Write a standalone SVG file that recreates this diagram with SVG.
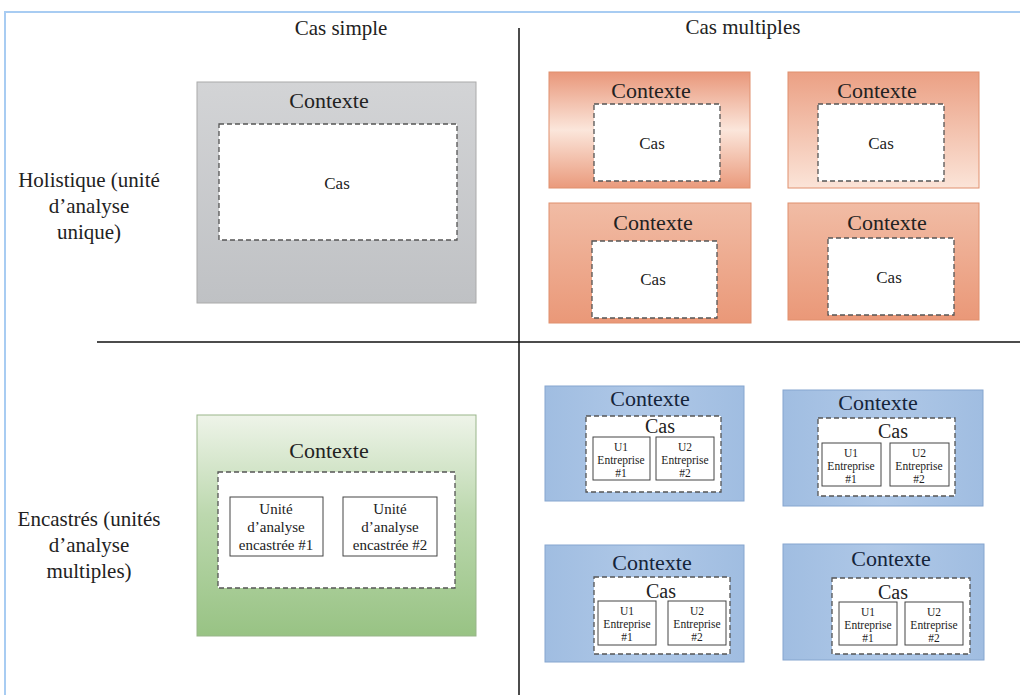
<svg xmlns="http://www.w3.org/2000/svg" width="1020" height="695" viewBox="0 0 1020 695">
<defs>
<linearGradient id="gGray" x1="0" y1="0" x2="0" y2="1"><stop offset="0" stop-color="#D3D4D6"/><stop offset="1" stop-color="#BFC1C4"/></linearGradient>
<linearGradient id="gGreen" x1="0" y1="0" x2="0" y2="1"><stop offset="0" stop-color="#EEF4E9"/><stop offset="0.45" stop-color="#BCD8AE"/><stop offset="1" stop-color="#98C384"/></linearGradient>
<linearGradient id="gOr1" x1="0" y1="0" x2="0" y2="1"><stop offset="0" stop-color="#E9977A"/><stop offset="0.5" stop-color="#FBE6DB"/><stop offset="1" stop-color="#EA9A7C"/></linearGradient>
<linearGradient id="gOr2" x1="0" y1="0" x2="0" y2="1"><stop offset="0" stop-color="#EBA084"/><stop offset="1" stop-color="#FBE4D8"/></linearGradient>
<linearGradient id="gOr3" x1="0" y1="0" x2="0" y2="1"><stop offset="0" stop-color="#F1BCA5"/><stop offset="1" stop-color="#EA9878"/></linearGradient>
<linearGradient id="gBlue" x1="0" y1="0" x2="1" y2="0"><stop offset="0" stop-color="#A0BDE1"/><stop offset="0.5" stop-color="#AFC8E7"/><stop offset="1" stop-color="#A0BDE1"/></linearGradient>
</defs>
<style>
text{font-family:"Liberation Serif","Times New Roman",serif;fill:#222;text-anchor:middle;dominant-baseline:central}
.title{font-size:21px}
.side{font-size:21px}
.ctx{font-size:22px}
.ctxb{font-size:22px;fill:#15243a}
.cas{font-size:17px}
.casb{font-size:20px}
.u{font-size:11.5px}
.ue{font-size:15px}
.dash{fill:#fff;stroke:#555;stroke-width:1.3;stroke-dasharray:5,3}
.unit{fill:#fff;stroke:#444;stroke-width:1}
.gray{fill:url(#gGray);stroke:#aaa;stroke-width:1}
.green{fill:url(#gGreen);stroke:#99b58a;stroke-width:1}
.or{stroke:#E0906E;stroke-width:1}
.blue{fill:url(#gBlue);stroke:#86a6cf;stroke-width:1}
.line{stroke:#111;stroke-width:1.5;fill:none}
.frame{stroke:#A8CCF2;stroke-width:2;fill:none}
</style>
<rect width="1020" height="695" fill="#fff"/>
<path class="frame" d="M1020 12 H5 V695"/>
<g id="connectors">
<line class="line" x1="519" y1="28" x2="519" y2="695"/>
<line class="line" x1="97" y1="342" x2="1020" y2="342"/>
</g>
<g id="labels">
<text class="title" x="341" y="28">Cas simple</text>
<text class="title" x="743" y="27">Cas multiples</text>
<text class="side" x="89" y="180">Holistique (unité</text>
<text class="side" x="89" y="206">d’analyse</text>
<text class="side" x="89" y="232">unique)</text>
<text class="side" x="89" y="519">Encastrés (unités</text>
<text class="side" x="89" y="545">d’analyse</text>
<text class="side" x="89" y="571">multiples)</text>
</g>
<g id="simple-holistic">
<rect class="gray" x="197" y="82" width="279" height="221"/>
<text class="ctx" x="329" y="100">Contexte</text>
<rect class="dash" x="219" y="124" width="238" height="116"/>
<text class="cas" x="337" y="183">Cas</text>
</g>
<g id="multi-holistic-1">
<rect class="or" fill="url(#gOr1)" x="549" y="72" width="201" height="116"/>
<text class="ctx" x="651" y="90">Contexte</text>
<rect class="dash" x="594" y="104" width="126" height="77"/>
<text class="cas" x="652" y="143">Cas</text>
</g>
<g id="multi-holistic-2">
<rect class="or" fill="url(#gOr2)" x="788" y="72" width="191" height="116"/>
<text class="ctx" x="877" y="90">Contexte</text>
<rect class="dash" x="818" y="104" width="126" height="77"/>
<text class="cas" x="881" y="143">Cas</text>
</g>
<g id="multi-holistic-3">
<rect class="or" fill="url(#gOr3)" x="549" y="203" width="202" height="120"/>
<text class="ctx" x="653" y="222">Contexte</text>
<rect class="dash" x="592" y="241" width="125" height="77"/>
<text class="cas" x="653" y="279">Cas</text>
</g>
<g id="multi-holistic-4">
<rect class="or" fill="url(#gOr3)" x="788" y="203" width="191" height="117"/>
<text class="ctx" x="887" y="222">Contexte</text>
<rect class="dash" x="828" y="238" width="126" height="77"/>
<text class="cas" x="889" y="277">Cas</text>
</g>
<g id="simple-embedded">
<rect class="green" x="197" y="415" width="279" height="221"/>
<text class="ctx" x="329" y="450">Contexte</text>
<rect class="dash" x="218" y="472" width="237" height="116"/>
<rect class="unit" x="230" y="497" width="93" height="59"/>
<text class="ue" x="276" y="509">Unité</text>
<text class="ue" x="276" y="527">d’analyse</text>
<text class="ue" x="276" y="545">encastrée #1</text>
<rect class="unit" x="343" y="497" width="94" height="59"/>
<text class="ue" x="390" y="509">Unité</text>
<text class="ue" x="390" y="527">d’analyse</text>
<text class="ue" x="390" y="545">encastrée #2</text>
</g>
<g id="multi-embedded-1">
<rect class="blue" x="545" y="386" width="199" height="115"/>
<text class="ctxb" x="650" y="398">Contexte</text>
<rect class="dash" x="586" y="416" width="135" height="76"/>
<text class="casb" x="660" y="426">Cas</text>
<rect class="unit" x="593" y="437" width="57" height="43"/>
<text class="u" x="621" y="447">U1</text>
<text class="u" x="621" y="460">Entreprise</text>
<text class="u" x="621" y="473">#1</text>
<rect class="unit" x="656" y="437" width="58" height="43"/>
<text class="u" x="685" y="447">U2</text>
<text class="u" x="685" y="460">Entreprise</text>
<text class="u" x="685" y="473">#2</text>
</g>
<g id="multi-embedded-2">
<rect class="blue" x="783" y="390" width="200" height="116"/>
<text class="ctxb" x="878" y="402">Contexte</text>
<rect class="dash" x="818" y="418" width="137" height="78"/>
<text class="casb" x="893" y="431">Cas</text>
<rect class="unit" x="822" y="443" width="59" height="43"/>
<text class="u" x="851" y="453">U1</text>
<text class="u" x="851" y="466">Entreprise</text>
<text class="u" x="851" y="479">#1</text>
<rect class="unit" x="890" y="443" width="59" height="43"/>
<text class="u" x="919" y="453">U2</text>
<text class="u" x="919" y="466">Entreprise</text>
<text class="u" x="919" y="479">#2</text>
</g>
<g id="multi-embedded-3">
<rect class="blue" x="545" y="545" width="199" height="117"/>
<text class="ctxb" x="652" y="562">Contexte</text>
<rect class="dash" x="594" y="577" width="136" height="77"/>
<text class="casb" x="661" y="591">Cas</text>
<rect class="unit" x="598" y="601" width="58" height="44"/>
<text class="u" x="627" y="611">U1</text>
<text class="u" x="627" y="624">Entreprise</text>
<text class="u" x="627" y="637">#1</text>
<rect class="unit" x="668" y="601" width="58" height="44"/>
<text class="u" x="697" y="611">U2</text>
<text class="u" x="697" y="624">Entreprise</text>
<text class="u" x="697" y="637">#2</text>
</g>
<g id="multi-embedded-4">
<rect class="blue" x="783" y="544" width="201" height="116"/>
<text class="ctxb" x="891" y="558">Contexte</text>
<rect class="dash" x="832" y="578" width="138" height="76"/>
<text class="casb" x="893" y="592">Cas</text>
<rect class="unit" x="839" y="602" width="58" height="43"/>
<text class="u" x="868" y="612">U1</text>
<text class="u" x="868" y="625">Entreprise</text>
<text class="u" x="868" y="638">#1</text>
<rect class="unit" x="905" y="602" width="58" height="43"/>
<text class="u" x="934" y="612">U2</text>
<text class="u" x="934" y="625">Entreprise</text>
<text class="u" x="934" y="638">#2</text>
</g>
</svg>
